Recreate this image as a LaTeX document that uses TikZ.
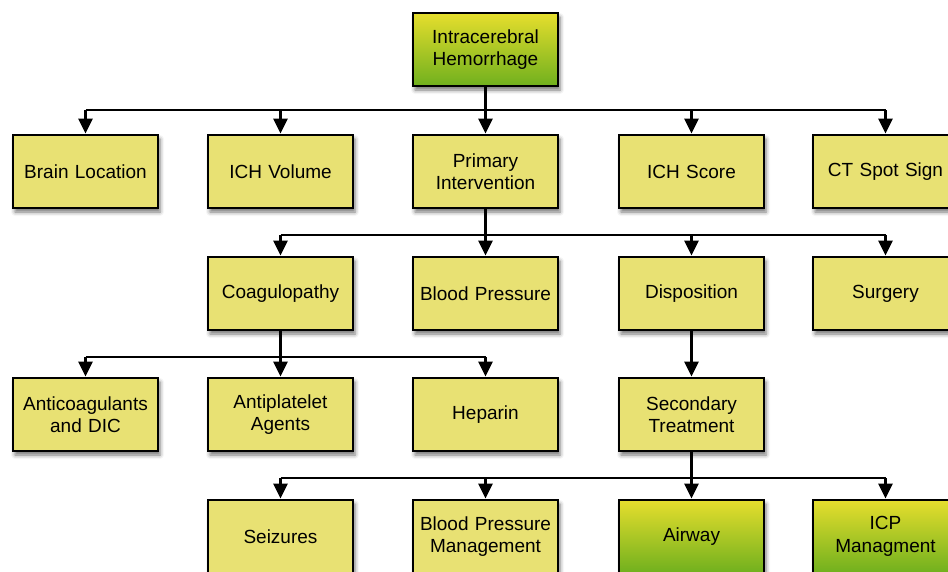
\documentclass[tikz,border=0pt]{standalone}
\usepackage{fontspec}
\setmainfont{Liberation Sans}
\usetikzlibrary{arrows.meta,shadows.blur}
\definecolor{boxyellow}{RGB}{232,225,115}
\definecolor{gtop}{RGB}{230,222,45}
\definecolor{gbot}{RGB}{112,176,30}
\tikzset{
  box/.style={draw=black, line width=2.8pt, fill=boxyellow, minimum width=145pt, minimum height=73pt,
    inner sep=0pt, text width=140pt, align=center, font=\fontsize{19}{22.5}\selectfont,
    blur shadow={shadow xshift=2pt, shadow yshift=-4pt, shadow blur radius=4pt, shadow opacity=55}},
  gbox/.style={box, top color=gtop, bottom color=gbot},
  conn/.style={line width=2.8pt, -{Triangle[width=14pt,length=15pt]}},
  line/.style={line width=2.8pt}
}
\begin{document}
\begin{tikzpicture}[x=1pt,y=1pt]
\useasboundingbox (0,0) rectangle (948,-571);
% row 0
\node[gbox] (ich) at (485.5,-49.5) {Intracerebral\\Hemorrhage};
% row 1
\node[box] (brain) at (85.5,-171.5) {Brain Location};
\node[box] (vol) at (280.5,-171.5) {ICH Volume};
\node[box] (prim) at (485.5,-171.5) {Primary\\Intervention};
\node[box] (score) at (691.5,-171.5) {ICH Score};
\node[box] (spot) at (885.5,-171.5) {CT Spot Sign};
% row 2
\node[box] (coag) at (280.5,-293.5) {Coagulopathy};
\node[box] (bp) at (485.5,-293.5) {Blood Pressure};
\node[box] (disp) at (691.5,-293.5) {Disposition};
\node[box] (surg) at (885.5,-293.5) {Surgery};
% row 3
\node[box] (anti) at (85.5,-414.5) {Anticoagulants\\and DIC};
\node[box] (plat) at (280.5,-414.5) {Antiplatelet\\Agents};
\node[box] (hep) at (485.5,-414.5) {Heparin};
\node[box] (sec) at (691.5,-414.5) {Secondary\\Treatment};
% row 4
\node[box] (seiz) at (280.5,-536.5) {Seizures};
\node[box] (bpm) at (485.5,-536.5) {Blood Pressure\\Management};
\node[gbox] (air) at (691.5,-536.5) {Airway};
\node[gbox] (icp) at (885.5,-536.5) {ICP\\Managment};
% connectors row 0 -> 1
\draw[line] (ich.south) -- (ich.south |- 0,-110);
\draw[line] (brain.north |- 0,-110) -- (spot.north |- 0,-110);
\foreach \n in {brain,vol,prim,score,spot} \draw[conn] (\n.north |- 0,-110) -- (\n.north);
% row 1 -> 2
\draw[line] (prim.south) -- (prim.south |- 0,-235);
\draw[line] (coag.north |- 0,-235) -- (surg.north |- 0,-235);
\foreach \n in {coag,bp,disp,surg} \draw[conn] (\n.north |- 0,-235) -- (\n.north);
% row 2 -> 3
\draw[line] (coag.south) -- (coag.south |- 0,-357);
\draw[line] (anti.north |- 0,-357) -- (hep.north |- 0,-357);
\foreach \n in {anti,plat,hep} \draw[conn] (\n.north |- 0,-357) -- (\n.north);
\draw[conn] (disp.south) -- (sec.north);
% row 3 -> 4
\draw[line] (sec.south) -- (sec.south |- 0,-478);
\draw[line] (seiz.north |- 0,-478) -- (icp.north |- 0,-478);
\foreach \n in {seiz,bpm,air,icp} \draw[conn] (\n.north |- 0,-478) -- (\n.north);
\end{tikzpicture}
\end{document}
